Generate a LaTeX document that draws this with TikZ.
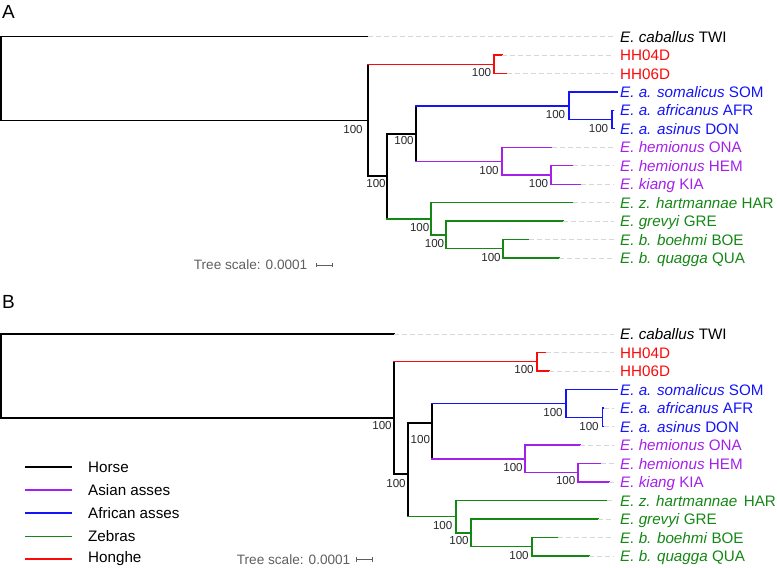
\documentclass[tikz,border=0pt]{standalone}
\usepackage{fontspec}
\setmainfont{Liberation Sans}
\usetikzlibrary{calc}
\definecolor{hred}{RGB}{250,10,10}
\definecolor{hblue}{RGB}{20,20,250}
\definecolor{hpurple}{RGB}{165,32,235}
\definecolor{hgreen}{RGB}{20,135,20}
\definecolor{leadgray}{RGB}{215,215,215}
\definecolor{bsgray}{RGB}{40,40,40}
\definecolor{scgray}{RGB}{95,95,95}
\tikzset{
  br/.style={line width=1.35pt, line cap=rect},
  lead/.style={draw=leadgray, line width=0.8pt, dash pattern=on 5pt off 3pt},
  bs/.style={font=\fontsize{11.6}{12}\selectfont, text=bsgray, inner sep=0pt, anchor=center},
  leaf/.style={font=\fontsize{15.2}{17}\selectfont, inner sep=0pt, anchor=base west},
  panel/.style={font=\fontsize{19}{20}\selectfont, inner sep=0pt, anchor=west},
  sctext/.style={font=\fontsize{13.6}{15}\selectfont, text=scgray, inner sep=0pt, anchor=east},
  legtext/.style={font=\fontsize{15.2}{17}\selectfont, inner sep=0pt, anchor=west},
  legline/.style={line width=1.35pt},
  scbar/.style={draw=scgray, line width=0.9pt}
}
% vertical bar of a parent node and horizontal edges
\newcommand{\vbar}[4]{\draw[br,#1] (#2 |- #3) -- (#2 |- #4);}
\newcommand{\hedge}[3]{\draw[br,#1] (#2 |- #3) -- (#3);}
\newcommand{\leader}[2]{\draw[lead] (#1) -- ($(#2.west |- #1)+(-6,0)$);}
\begin{document}
\begin{tikzpicture}[x=1pt,y=-1pt]
\useasboundingbox (0,0) rectangle (777,568);

% ================= Panel A =================
\node[panel] (pA) at (2,12) {A};

\coordinate (aR) at (1,78);
\coordinate (aTWI) at (368,36.5);
\coordinate (aN1) at (368,120.2);
\coordinate (aH) at (494,64.2);
\coordinate (aHH04) at (502,55);
\coordinate (aHH06) at (507,73.4);
\coordinate (aN2) at (387,176);
\coordinate (aN3) at (416,134);
\coordinate (aN4) at (569,106);
\coordinate (aSOM) at (617,91.9);
\coordinate (aN5) at (612,119.5);
\coordinate (aAFR) at (613.5,110.3);
\coordinate (aDON) at (614,128.8);
\coordinate (aN6) at (502,161.5);
\coordinate (aONA) at (552,147.3);
\coordinate (aN7) at (551,175);
\coordinate (aHEM) at (573,165.7);
\coordinate (aKIA) at (581,184.2);
\coordinate (aN8) at (431,219);
\coordinate (aHAR) at (573,202.6);
\coordinate (aN9) at (446,235);
\coordinate (aGRE) at (563,221.1);
\coordinate (aN10) at (503,248.8);
\coordinate (aBOE) at (529,239.6);
\coordinate (aQUA) at (559,258);

% branches
\vbar{black}{aR}{aTWI}{aN1}
\hedge{black}{aR}{aTWI}
\hedge{black}{aR}{aN1}
\vbar{black}{aN1}{aH}{aN2}
\hedge{hred}{aN1}{aH}
\hedge{black}{aN1}{aN2}
\vbar{hred}{aH}{aHH04}{aHH06}
\hedge{hred}{aH}{aHH04}
\hedge{hred}{aH}{aHH06}
\vbar{black}{aN2}{aN3}{aN8}
\hedge{black}{aN2}{aN3}
\hedge{hgreen}{aN2}{aN8}
\vbar{black}{aN3}{aN4}{aN6}
\hedge{hblue}{aN3}{aN4}
\hedge{hpurple}{aN3}{aN6}
\vbar{hblue}{aN4}{aSOM}{aN5}
\hedge{hblue}{aN4}{aSOM}
\hedge{hblue}{aN4}{aN5}
\vbar{hblue}{aN5}{aAFR}{aDON}
\hedge{hblue}{aN5}{aAFR}
\hedge{hblue}{aN5}{aDON}
\vbar{hpurple}{aN6}{aONA}{aN7}
\hedge{hpurple}{aN6}{aONA}
\hedge{hpurple}{aN6}{aN7}
\vbar{hpurple}{aN7}{aHEM}{aKIA}
\hedge{hpurple}{aN7}{aHEM}
\hedge{hpurple}{aN7}{aKIA}
\vbar{hgreen}{aN8}{aHAR}{aN9}
\hedge{hgreen}{aN8}{aHAR}
\hedge{hgreen}{aN8}{aN9}
\vbar{hgreen}{aN9}{aGRE}{aN10}
\hedge{hgreen}{aN9}{aGRE}
\hedge{hgreen}{aN9}{aN10}
\vbar{hgreen}{aN10}{aBOE}{aQUA}
\hedge{hgreen}{aN10}{aBOE}
\hedge{hgreen}{aN10}{aQUA}

% leaf labels
\node[leaf,text=black] (aLTWI) at (620,42.1) {\textit{E. caballus} TWI};
\node[leaf,text=hred] (aLHH04) at (620,60.6) {HH04D};
\node[leaf,text=hred] (aLHH06) at (620,79) {HH06D};
\node[leaf,text=hblue] (aLSOM) at (620,97.5) {\textit{E. a. somalicus} SOM};
\node[leaf,text=hblue] (aLAFR) at (620,115.9) {\textit{E. a. africanus} AFR};
\node[leaf,text=hblue] (aLDON) at (620,134.4) {\textit{E. a. asinus} DON};
\node[leaf,text=hpurple] (aLONA) at (620,152.9) {\textit{E. hemionus} ONA};
\node[leaf,text=hpurple] (aLHEM) at (620,171.3) {\textit{E. hemionus} HEM};
\node[leaf,text=hpurple] (aLKIA) at (620,189.8) {\textit{E. kiang} KIA};
\node[leaf,text=hgreen] (aLHAR) at (620,208.2) {\textit{E. z. hartmannae} HAR};
\node[leaf,text=hgreen] (aLGRE) at (620,226.7) {\textit{E. grevyi} GRE};
\node[leaf,text=hgreen] (aLBOE) at (620,245.2) {\textit{E. b. boehmi} BOE};
\node[leaf,text=hgreen] (aLQUA) at (620,263.6) {\textit{E. b. quagga} QUA};

\leader{aTWI}{aLTWI}
\leader{aHH04}{aLHH04}
\leader{aHH06}{aLHH06}
\leader{aAFR}{aLAFR}
\leader{aDON}{aLDON}
\leader{aONA}{aLONA}
\leader{aHEM}{aLHEM}
\leader{aKIA}{aLKIA}
\leader{aHAR}{aLHAR}
\leader{aGRE}{aLGRE}
\leader{aBOE}{aLBOE}
\leader{aQUA}{aLQUA}

% bootstrap values
\node[bs] (aB1) at (353,130) {100};
\node[bs] (aBH) at (481.5,73) {100};
\node[bs] (aB2) at (376,184) {100};
\node[bs] (aB3) at (404,140.7) {100};
\node[bs] (aB4) at (555.5,115) {100};
\node[bs] (aB5) at (598.5,129) {100};
\node[bs] (aB6) at (489,170.7) {100};
\node[bs] (aB7) at (538.5,183.3) {100};
\node[bs] (aB8) at (419.7,227.3) {100};
\node[bs] (aB9) at (434.5,243.3) {100};
\node[bs] (aB10) at (491,257.3) {100};

% tree scale
\node[sctext] (aSC) at (307.5,265) {Tree scale: 0.0001};
\coordinate (aSb1) at (316.5,265);
\coordinate (aSb2) at (332.5,265);
\draw[scbar] (aSb1) -- (aSb2);
\draw[scbar] ($(aSb1)+(0,-2.2)$) -- ($(aSb1)+(0,2.2)$);
\draw[scbar] ($(aSb2)+(0,-2.2)$) -- ($(aSb2)+(0,2.2)$);

% ================= Panel B =================
\node[panel] (pB) at (2,302) {B};

\coordinate (bR) at (1,376);
\coordinate (bTWI) at (394,334);
\coordinate (bN1) at (394,418);
\coordinate (bH) at (537,361.75);
\coordinate (bHH04) at (546,352.5);
\coordinate (bHH06) at (549,371);
\coordinate (bN2) at (408,474);
\coordinate (bN3) at (432,423);
\coordinate (bN4) at (566,403.5);
\coordinate (bSOM) at (617,389.5);
\coordinate (bN5) at (602.5,417.25);
\coordinate (bAFR) at (603.5,408);
\coordinate (bDON) at (604,426.5);
\coordinate (bN6) at (525,459);
\coordinate (bONA) at (580,445);
\coordinate (bN7) at (578,472.75);
\coordinate (bHEM) at (601,463.5);
\coordinate (bKIA) at (609,482);
\coordinate (bN8) at (456,516.5);
\coordinate (bHAR) at (607,500.5);
\coordinate (bN9) at (471,532.9);
\coordinate (bGRE) at (598,519);
\coordinate (bN10) at (532,546.75);
\coordinate (bBOE) at (558,537.5);
\coordinate (bQUA) at (589,556);

\vbar{black}{bR}{bTWI}{bN1}
\hedge{black}{bR}{bTWI}
\hedge{black}{bR}{bN1}
\vbar{black}{bN1}{bH}{bN2}
\hedge{hred}{bN1}{bH}
\hedge{black}{bN1}{bN2}
\vbar{hred}{bH}{bHH04}{bHH06}
\hedge{hred}{bH}{bHH04}
\hedge{hred}{bH}{bHH06}
\vbar{black}{bN2}{bN3}{bN8}
\hedge{black}{bN2}{bN3}
\hedge{hgreen}{bN2}{bN8}
\vbar{black}{bN3}{bN4}{bN6}
\hedge{hblue}{bN3}{bN4}
\hedge{hpurple}{bN3}{bN6}
\vbar{hblue}{bN4}{bSOM}{bN5}
\hedge{hblue}{bN4}{bSOM}
\hedge{hblue}{bN4}{bN5}
\vbar{hblue}{bN5}{bAFR}{bDON}
\hedge{hblue}{bN5}{bAFR}
\hedge{hblue}{bN5}{bDON}
\vbar{hpurple}{bN6}{bONA}{bN7}
\hedge{hpurple}{bN6}{bONA}
\hedge{hpurple}{bN6}{bN7}
\vbar{hpurple}{bN7}{bHEM}{bKIA}
\hedge{hpurple}{bN7}{bHEM}
\hedge{hpurple}{bN7}{bKIA}
\vbar{hgreen}{bN8}{bHAR}{bN9}
\hedge{hgreen}{bN8}{bHAR}
\hedge{hgreen}{bN8}{bN9}
\vbar{hgreen}{bN9}{bGRE}{bN10}
\hedge{hgreen}{bN9}{bGRE}
\hedge{hgreen}{bN9}{bN10}
\vbar{hgreen}{bN10}{bBOE}{bQUA}
\hedge{hgreen}{bN10}{bBOE}
\hedge{hgreen}{bN10}{bQUA}

\node[leaf,text=black] (bLTWI) at (620,339.6) {\textit{E. caballus} TWI};
\node[leaf,text=hred] (bLHH04) at (620,358.1) {HH04D};
\node[leaf,text=hred] (bLHH06) at (620,376.6) {HH06D};
\node[leaf,text=hblue] (bLSOM) at (620,395.1) {\textit{E. a. somalicus} SOM};
\node[leaf,text=hblue] (bLAFR) at (620,413.6) {\textit{E. a. africanus} AFR};
\node[leaf,text=hblue] (bLDON) at (620,432.1) {\textit{E. a. asinus} DON};
\node[leaf,text=hpurple] (bLONA) at (620,450.6) {\textit{E. hemionus} ONA};
\node[leaf,text=hpurple] (bLHEM) at (620,469.1) {\textit{E. hemionus} HEM};
\node[leaf,text=hpurple] (bLKIA) at (620,487.6) {\textit{E. kiang} KIA};
\node[leaf,text=hgreen] (bLHAR) at (620,506.1) {\textit{E. z. hartmannae}\hspace{6.5pt}HAR};
\node[leaf,text=hgreen] (bLGRE) at (620,524.6) {\textit{E. grevyi} GRE};
\node[leaf,text=hgreen] (bLBOE) at (620,543.1) {\textit{E. b. boehmi} BOE};
\node[leaf,text=hgreen] (bLQUA) at (620,561.6) {\textit{E. b. quagga} QUA};

\leader{bTWI}{bLTWI}
\leader{bHH04}{bLHH04}
\leader{bHH06}{bLHH06}
\leader{bAFR}{bLAFR}
\leader{bDON}{bLDON}
\leader{bONA}{bLONA}
\leader{bHEM}{bLHEM}
\leader{bKIA}{bLKIA}
\leader{bHAR}{bLHAR}
\leader{bGRE}{bLGRE}
\leader{bBOE}{bLBOE}
\leader{bQUA}{bLQUA}

\node[bs] (bB1) at (382,426) {100};
\node[bs] (bBH) at (524,370) {100};
\node[bs] (bB2) at (396,483.3) {100};
\node[bs] (bB3) at (420.3,439.3) {100};
\node[bs] (bB4) at (553,412.7) {100};
\node[bs] (bB5) at (589,426.7) {100};
\node[bs] (bB6) at (513,467.3) {100};
\node[bs] (bB7) at (565.7,480.7) {100};
\node[bs] (bB8) at (442.7,525) {100};
\node[bs] (bB9) at (459,540.7) {100};
\node[bs] (bB10) at (519,555) {100};

\node[sctext] (bSC) at (350.5,559.5) {Tree scale: 0.0001};
\coordinate (bSb1) at (356.5,559.5);
\coordinate (bSb2) at (372.5,559.5);
\draw[scbar] (bSb1) -- (bSb2);
\draw[scbar] ($(bSb1)+(0,-2.2)$) -- ($(bSb1)+(0,2.2)$);
\draw[scbar] ($(bSb2)+(0,-2.2)$) -- ($(bSb2)+(0,2.2)$);

% legend
\foreach \c/\t/\y/\n in {black/Horse/467/1, hpurple/Asian asses/490/2, hblue/African asses/513/3, hgreen/Zebras/536.5/4, hred/Honghe/559/5}{
  \coordinate (lgA\n) at (25,\y);
  \coordinate (lgB\n) at (72,\y);
  \draw[legline,\c] (lgA\n) -- (lgB\n);
  \node[legtext] (lgT\n) at (88,\y) {\t};
}
\end{tikzpicture}
\end{document}
